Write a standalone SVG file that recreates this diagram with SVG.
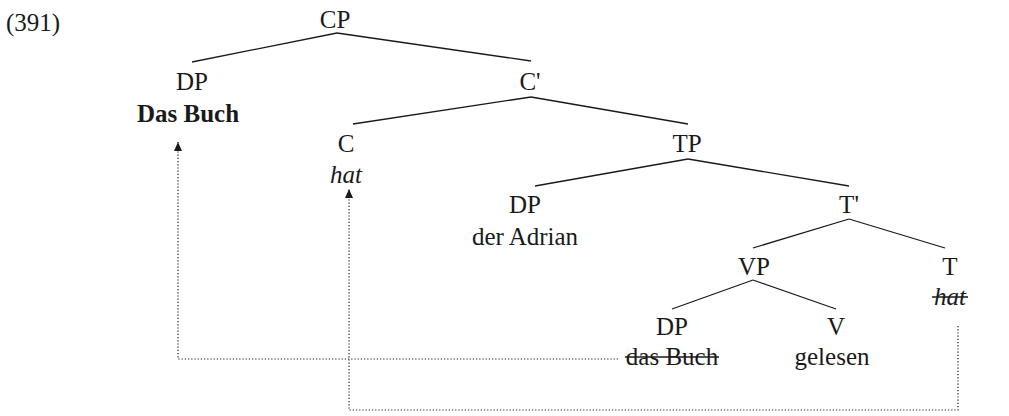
<svg xmlns="http://www.w3.org/2000/svg" width="1009" height="416" viewBox="0 0 1009 416">
<defs>
<style>
text{font-family:"Liberation Serif","Times New Roman",serif;font-size:25px;fill:#1a1a1a;text-anchor:middle}
.b{font-weight:bold}
.i{font-style:italic}
.edge{stroke:#1a1a1a;stroke-width:1.3;fill:none}
.dot{stroke:#1a1a1a;stroke-width:1.2;fill:none;stroke-dasharray:1.2 2}
.strike{stroke:#1a1a1a;stroke-width:1.3}
</style>
<marker id="ah" markerWidth="9" markerHeight="8" refX="9" refY="4" orient="auto" markerUnits="userSpaceOnUse" viewBox="0 0 9 8">
<path d="M0,0 L9,4 L0,8 Z" fill="#1a1a1a"/>
</marker>
</defs>
<rect width="1009" height="416" fill="#fff"/>
<text x="6" y="31" style="text-anchor:start">(391)</text>
<g id="connectors">
<line class="edge" x1="337" y1="33" x2="192" y2="62"/>
<line class="edge" x1="337" y1="33" x2="531" y2="61"/>
<line class="edge" x1="531" y1="97" x2="353" y2="124"/>
<line class="edge" x1="531" y1="97" x2="688" y2="124"/>
<line class="edge" x1="688" y1="159" x2="535" y2="186"/>
<line class="edge" x1="688" y1="159" x2="849" y2="186"/>
<line class="edge" x1="849" y1="219" x2="753" y2="248"/>
<line class="edge" x1="849" y1="219" x2="945" y2="248"/>
<line class="edge" x1="753" y1="280" x2="672" y2="309"/>
<line class="edge" x1="753" y1="280" x2="836" y2="309"/>
<polyline class="dot" points="618,359 178,359 178,142" marker-end="url(#ah)"/>
<polyline class="dot" points="958,326 958,410 349,410 349,189" marker-end="url(#ah)"/>
</g>
<g id="n-cp"><text x="335" y="28">CP</text></g>
<g id="n-dp1"><text x="192" y="90">DP</text><text class="b" x="188" y="122">Das Buch</text></g>
<g id="n-cbar"><text x="530" y="90">C'</text></g>
<g id="n-c"><text x="346" y="152">C</text><text class="i" x="346" y="183">hat</text></g>
<g id="n-tp"><text x="687" y="152">TP</text></g>
<g id="n-dp2"><text x="525" y="213">DP</text><text x="525" y="245">der Adrian</text></g>
<g id="n-tbar"><text x="849" y="213">T'</text></g>
<g id="n-vp"><text x="754" y="275">VP</text></g>
<g id="n-t"><text x="950" y="275">T</text><text class="i" x="950" y="305">hat</text><line class="strike" x1="932" y1="297" x2="968" y2="297"/></g>
<g id="n-dp3"><text x="672" y="335">DP</text><text x="672" y="365">das Buch</text><line class="strike" x1="625" y1="357" x2="719" y2="357"/></g>
<g id="n-v"><text x="836" y="335">V</text><text x="832" y="365">gelesen</text></g>
</svg>
